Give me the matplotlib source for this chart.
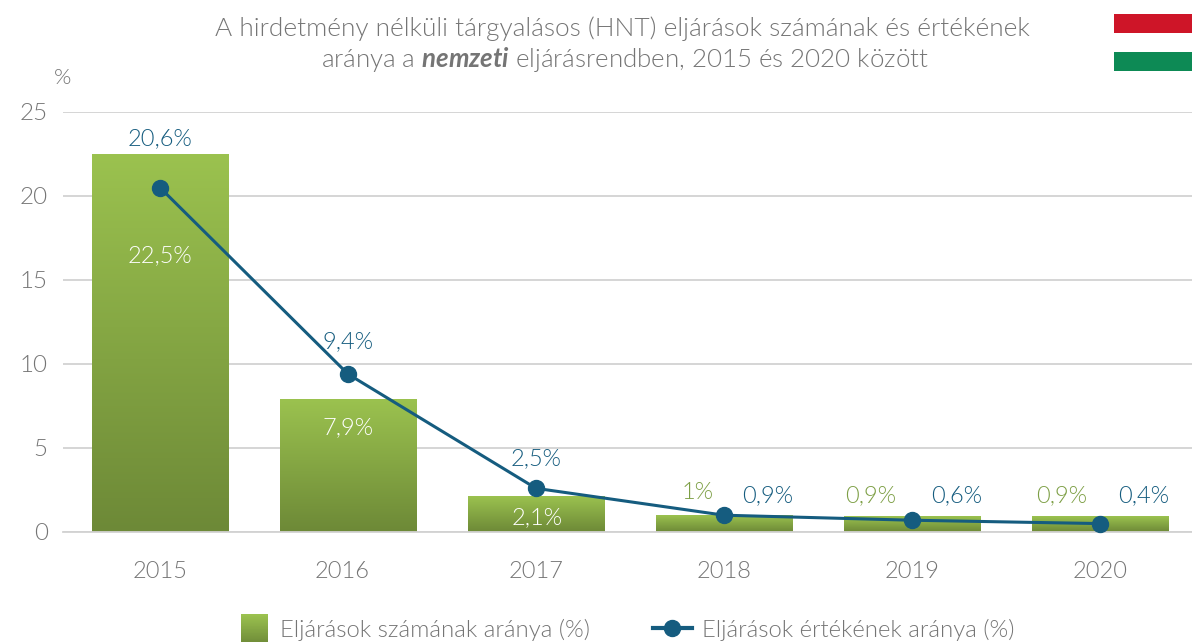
import numpy as np
import matplotlib
matplotlib.use("Agg")
import matplotlib.pyplot as plt
from matplotlib import font_manager as fm
from matplotlib.colors import LinearSegmentedColormap
from matplotlib.lines import Line2D
from matplotlib.patches import Patch, Rectangle
from matplotlib.legend_handler import HandlerBase
from matplotlib.transforms import ScaledTranslation

years = ["2015", "2016", "2017", "2018", "2019", "2020"]
count_share = [22.5, 7.9, 2.1, 1.0, 0.9, 0.9]
value_share = [20.5, 9.4, 2.6, 1.0, 0.7, 0.5]
count_labels = ["22,5%", "7,9%", "2,1%", "1%", "0,9%", "0,9%"]
value_labels = ["20,6%", "9,4%", "2,5%", "0,9%", "0,6%", "0,4%"]
y_ticks = [0, 5, 10, 15, 20, 25]
title_line1 = "A hirdetmény nélküli tárgyalásos (HNT) eljárások számának és értékének"
title_line2 = r"aránya a $\mathbfit{nemzeti}$ eljárásrendben, 2015 és 2020 között"
legend_bar = "Eljárások számának aránya (%)"
legend_line = "Eljárások értékének aránya (%)"

W, H = 1192, 642
plt.rcParams["font.family"] = ["Lato", "DejaVu Sans"]
plt.rcParams["mathtext.fontset"] = "custom"
plt.rcParams["mathtext.bfit"] = "Lato:italic:bold"
plt.rcParams["mathtext.default"] = "regular"

light_path = None
for f in fm.fontManager.ttflist:
    if f.name == "Lato" and f.fname.endswith("Lato-Light.ttf"):
        light_path = f.fname


def fp(size):
    if light_path:
        return fm.FontProperties(fname=light_path, size=size)
    return fm.FontProperties(family="Lato", size=size)


GREY = "#757575"
BLUE = "#155c7f"
GREEN = "#7d9f45"
GRID = "#d2d2d2"
cmap = LinearSegmentedColormap.from_list("g", ["#9bc24f", "#6d8937"])

fig = plt.figure(figsize=(W / 100, H / 100), dpi=100, facecolor="white")
ax = fig.add_axes([63 / W, 1 - 532 / H, (W - 63) / W, 420 / H])
x = np.arange(len(years))
bar_w = 0.725
x0 = 160.0
xlim = ((63 - x0) / 188, (W - x0) / 188)

grad = np.linspace(0, 1, 256).reshape(-1, 1)
for xi, v in zip(x, count_share):
    ax.imshow(grad, cmap=cmap, aspect="auto", zorder=2,
              extent=(xi - bar_w / 2, xi + bar_w / 2, 0, v))
ax.set_xlim(*xlim)
ax.set_ylim(0, 25)

ax.plot(x, value_share, color=BLUE, lw=2.2, marker="o", ms=11.5, zorder=4, clip_on=False)

ax.set_yticks(y_ticks)
ax.set_xticks(x, years)
ax.grid(axis="y", color=GRID, lw=1.3, zorder=0)
ax.set_axisbelow(True)
for s in ["top", "right", "left"]:
    ax.spines[s].set_visible(False)
ax.spines["bottom"].set_color(GRID)
ax.spines["bottom"].set_linewidth(1.3)
ax.tick_params(axis="both", length=0, labelcolor=GREY)
ax.tick_params(axis="x", pad=21)
ax.tick_params(axis="y", pad=11)
for t in ax.get_xticklabels():
    t.set_fontproperties(fp(17))
for t in ax.get_yticklabels():
    t.set_fontproperties(fp(17.5))
label_2016 = ax.get_xticklabels()[1]
label_2016.set_transform(label_2016.get_transform() + ScaledTranslation(-6 / 100, 0, fig.dpi_scale_trans))


def px(xp, yp):
    return xp / W, 1 - yp / H


vl_off = [(0, 43), (0, 26), (0, 23), (44, 13), (45, 18), (44, 22)]
for xi, v, t, o in zip(x, value_share, value_labels, vl_off):
    ax.annotate(t, (xi, v), xytext=o, textcoords="offset pixels", ha="center", va="baseline",
                fontproperties=fp(17), color=BLUE, zorder=5)
for xi, v, t, o in zip(x[:3], count_share[:3], count_labels[:3], [(0, -108), (0, -35), (1, -27)]):
    ax.annotate(t, (xi, v), xytext=o, textcoords="offset pixels", ha="center", va="baseline",
                fontproperties=fp(17), color="white", zorder=5)
for xi, v, t, o in zip(x[3:], count_share[3:], count_labels[3:], [(-26, 16), (-41, 15), (-38, 15)]):
    ax.annotate(t, (xi, v), xytext=o, textcoords="offset pixels", ha="center", va="baseline",
                fontproperties=fp(17), color=GREEN, zorder=5)

fig.text(*px(622, 36), title_line1, ha="center", va="baseline", fontproperties=fp(18.9), color=GREY)
fig.text(*px(624.5, 67), title_line2, ha="center", va="baseline", fontproperties=fp(18.6), color=GREY)
fig.text(*px(63, 84), "%", ha="center", va="baseline", fontproperties=fp(16), color=GREY)

fig.add_artist(Rectangle(px(1114, 33), 78 / W, 19 / H, transform=fig.transFigure, fc="#ce1528", ec="none"))
fig.add_artist(Rectangle(px(1114, 71), 78 / W, 19 / H, transform=fig.transFigure, fc="#0d8a55", ec="none"))


class GradientHandler(HandlerBase):
    def create_artists(self, legend, orig, xd, yd, width, height, fontsize, trans):
        n = 40
        artists = []
        top = height + 4.4
        bottom = -5.6
        for i in range(n):
            y0 = bottom + (top - bottom) * i / n
            artists.append(Rectangle((-xd, y0), width, (top - bottom) / n + 0.3,
                                     fc=cmap(1 - i / (n - 1)), ec="none", transform=trans))
        return artists


class WideLineHandler(HandlerBase):
    def create_artists(self, legend, orig, xd, yd, width, height, fontsize, trans):
        y = height / 2 + 0.7
        line = Line2D([-xd, -xd + width], [y, y], color=BLUE, lw=3, transform=trans)
        dot = Line2D([-xd + width / 2], [y], color=BLUE, marker="o", ms=11.5, transform=trans)
        return [line, dot]


handle_a = Patch(label=legend_bar)
handle_b = Line2D([], [], label=legend_line)
size = 17.2
px_to_pt = 0.72
leg_a = fig.legend(handles=[handle_a], loc="lower left", bbox_to_anchor=(241 / W, 1 - 641 / H),
                   frameon=False, prop=fp(size), labelcolor=GREY, borderpad=0, borderaxespad=0,
                   handler_map={Patch: GradientHandler()},
                   handlelength=27 * px_to_pt / size, handletextpad=12 * px_to_pt / size)
leg_b = fig.legend(handles=[handle_b], loc="lower left", bbox_to_anchor=(653 / W, 1 - 641 / H),
                   frameon=False, prop=fp(size), labelcolor=GREY, borderpad=0, borderaxespad=0,
                   handler_map={Line2D: WideLineHandler()},
                   handlelength=39 * px_to_pt / size, handletextpad=10 * px_to_pt / size)

fig.savefig("out.png", dpi=100)
